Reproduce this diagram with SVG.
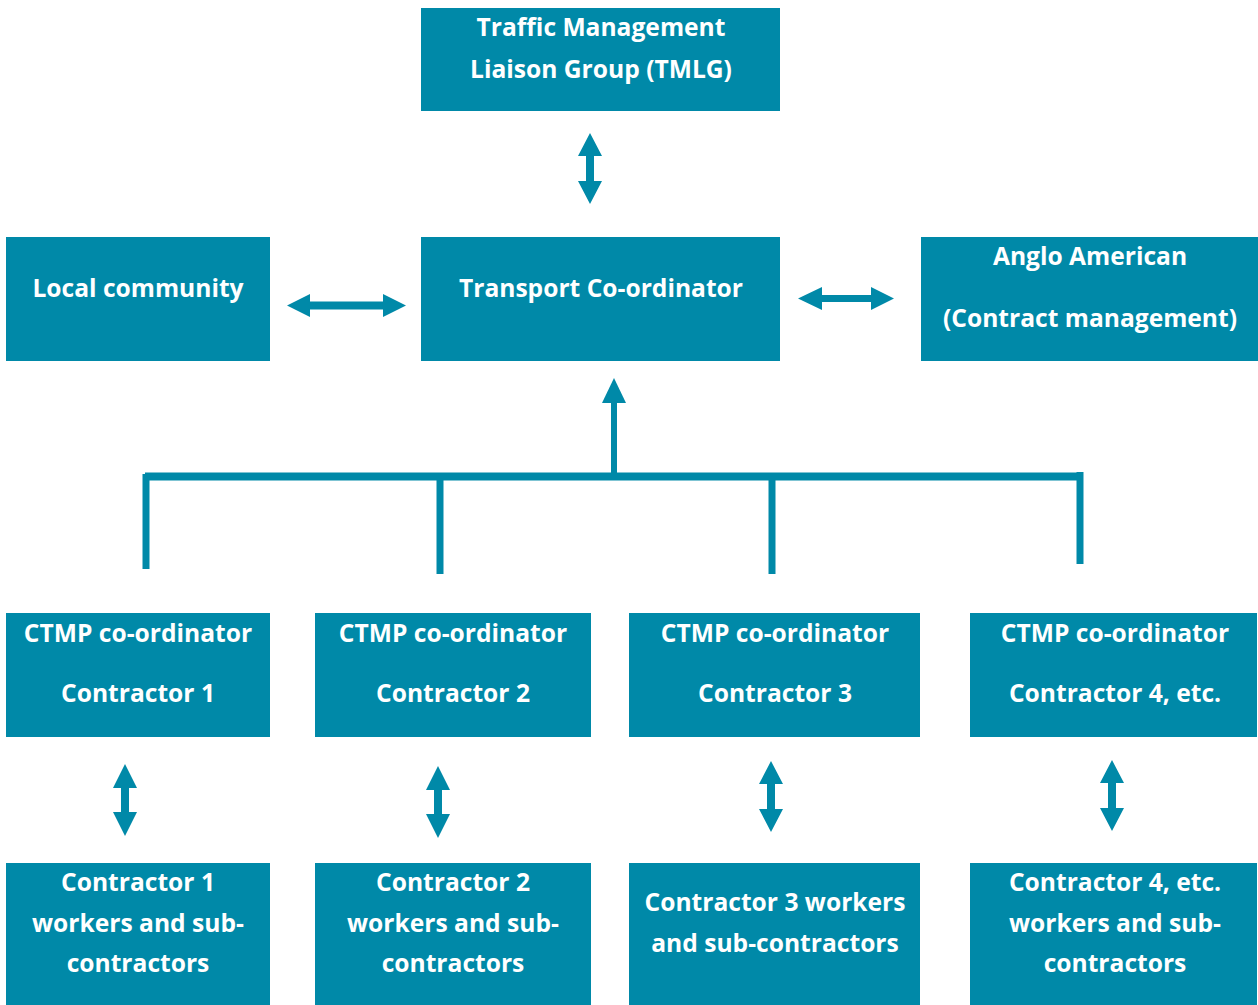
<svg xmlns="http://www.w3.org/2000/svg" width="1258" height="1005" viewBox="0 0 1258 1005">
<style>
.box{fill:#0089A8}
.t{font-family:"Open Sans",Lato,"Liberation Sans",sans-serif;font-weight:700;font-size:24.6px;fill:#fff;text-anchor:middle}
.ln{stroke:#0089A8;fill:none}
.ar{fill:#0089A8}
</style>
<rect width="1258" height="1005" fill="#fff"/>
<g id="tmlg"><rect class="box" x="421" y="8" width="359" height="103"/><text class="t" x="601" y="36">Traffic Management</text><text class="t" x="601" y="78">Liaison Group (TMLG)</text></g>
<g id="local"><rect class="box" x="6" y="237" width="264" height="124"/><text class="t" x="138" y="297">Local community</text></g>
<g id="transport"><rect class="box" x="421" y="237" width="359" height="124"/><text class="t" x="601" y="297">Transport Co-ordinator</text></g>
<g id="anglo"><rect class="box" x="921" y="237" width="337" height="124"/><text class="t" x="1090" y="265">Anglo American</text><text class="t" x="1090" y="327">(Contract management)</text></g>
<g id="ctmp1"><rect class="box" x="6" y="613" width="264" height="124"/><text class="t" x="138" y="642">CTMP co-ordinator</text><text class="t" x="138" y="702">Contractor 1</text></g>
<g id="ctmp2"><rect class="box" x="315" y="613" width="276" height="124"/><text class="t" x="453" y="642">CTMP co-ordinator</text><text class="t" x="453" y="702">Contractor 2</text></g>
<g id="ctmp3"><rect class="box" x="629" y="613" width="291" height="124"/><text class="t" x="775" y="642">CTMP co-ordinator</text><text class="t" x="775" y="702">Contractor 3</text></g>
<g id="ctmp4"><rect class="box" x="970" y="613" width="287" height="124"/><text class="t" x="1115" y="642">CTMP co-ordinator</text><text class="t" x="1115" y="702">Contractor 4, etc.</text></g>
<g id="workers1"><rect class="box" x="6" y="863" width="264" height="142"/><text class="t" x="138" y="891">Contractor 1</text><text class="t" x="138" y="932">workers and sub-</text><text class="t" x="138" y="972">contractors</text></g>
<g id="workers2"><rect class="box" x="315" y="863" width="276" height="142"/><text class="t" x="453" y="891">Contractor 2</text><text class="t" x="453" y="932">workers and sub-</text><text class="t" x="453" y="972">contractors</text></g>
<g id="workers3"><rect class="box" x="629" y="863" width="291" height="142"/><text class="t" x="775" y="911">Contractor 3 workers</text><text class="t" x="775" y="952">and sub-contractors</text></g>
<g id="workers4"><rect class="box" x="970" y="863" width="287" height="142"/><text class="t" x="1115" y="891">Contractor 4, etc.</text><text class="t" x="1115" y="932">workers and sub-</text><text class="t" x="1115" y="972">contractors</text></g>
<g id="connectors">
<path class="ar" d="M590,133 L602,156 L594,156 L594,181 L602,181 L590,204 L578,181 L586,181 L586,156 L578,156 Z"/>
<path class="ar" d="M287,305.5 L310,294 L310,301.5 L383,301.5 L383,294 L406,305.5 L383,317 L383,309.5 L310,309.5 L310,317 Z"/>
<path class="ar" d="M798,298.5 L822,287 L822,295 L871,295 L871,287 L894,298.5 L871,310 L871,302 L822,302 L822,310 Z"/>
<path class="ar" d="M125,764 L137,788 L129,788 L129,812 L137,812 L125,836 L113,812 L121,812 L121,788 L113,788 Z"/>
<path class="ar" d="M438,766 L450,790 L442,790 L442,814 L450,814 L438,838 L426,814 L434,814 L434,790 L426,790 Z"/>
<path class="ar" d="M771,761 L783,784 L775,784 L775,809 L783,809 L771,832 L759,809 L767,809 L767,784 L759,784 Z"/>
<path class="ar" d="M1112,760 L1124,783 L1116,783 L1116,808 L1124,808 L1112,831 L1100,808 L1108,808 L1108,783 L1100,783 Z"/>
<line class="ln" x1="145" y1="476.5" x2="1083" y2="476.5" stroke-width="8"/>
<line class="ln" x1="146" y1="474" x2="146" y2="569" stroke-width="7"/>
<line class="ln" x1="440" y1="476" x2="440" y2="574" stroke-width="7"/>
<line class="ln" x1="772" y1="476" x2="772" y2="574" stroke-width="7"/>
<line class="ln" x1="1080" y1="472" x2="1080" y2="564" stroke-width="7"/>
<line class="ln" x1="614" y1="474" x2="614" y2="400" stroke-width="6"/>
<path class="ar" d="M614,378 L626,403 L602,403 Z"/>
</g>
</svg>
